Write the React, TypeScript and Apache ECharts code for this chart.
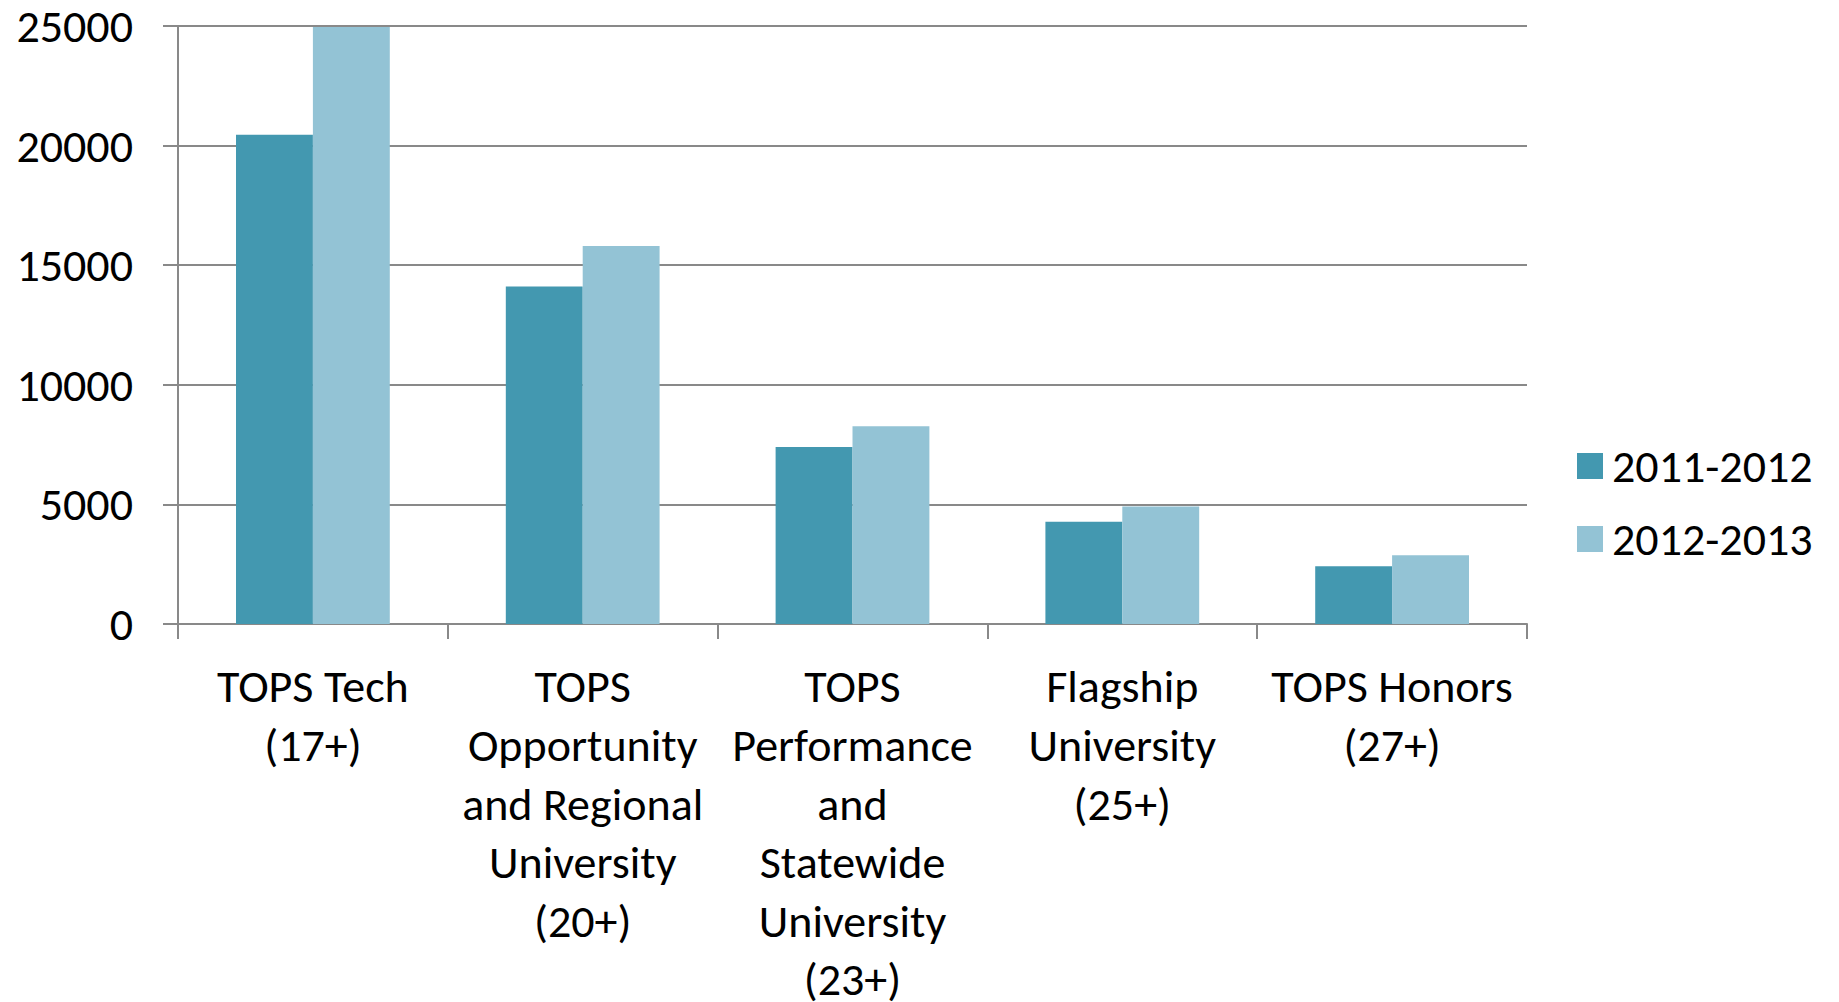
import React, { useEffect, useRef } from "react";
import * as echarts from "echarts";

const categories = [
  "TOPS Tech\n(17+)",
  "TOPS\nOpportunity\nand Regional\nUniversity\n(20+)",
  "TOPS\nPerformance\nand\nStatewide\nUniversity\n(23+)",
  "Flagship\nUniversity\n(25+)",
  "TOPS Honors\n(27+)",
];
const seriesNames = ["2011-2012", "2012-2013"];
const values2011 = [20450, 14110, 7400, 4270, 2410];
const values2012 = [24960, 15800, 8270, 4910, 2870];
const yTicks = { min: 0, max: 25000, interval: 5000 };

const FONT = "Carlito, Calibri, 'Open Sans', sans-serif";
const COLORS = ["#4398B0", "#93C3D5"];
const AXIS_GRAY = "#898989";

export default function App() {
  const ref = useRef<HTMLDivElement>(null);
  useEffect(() => {
    if (!ref.current) return;
    const chart = echarts.init(ref.current, undefined, { renderer: "svg" });
    chart.setOption({
      animation: false,
      backgroundColor: "#ffffff",
      textStyle: { fontFamily: FONT },
      grid: {
        left: 178,
        right: 312,
        top: 26,
        bottom: 378,
        containLabel: false,
        outerBoundsMode: "none",
      },
      legend: {
        orient: "vertical",
        left: 1572,
        top: 438,
        itemWidth: 26,
        itemHeight: 26,
        itemGap: 27,
        icon: "rect",
        data: seriesNames,
        textStyle: { fontFamily: FONT, fontSize: 46, color: "#000", padding: [0, 0, 0, 4] },
      },
      xAxis: {
        type: "category",
        data: categories,
        axisLine: { lineStyle: { color: AXIS_GRAY, width: 2 } },
        axisTick: { show: true, length: 15, alignWithLabel: false, lineStyle: { color: AXIS_GRAY, width: 2 } },
        axisLabel: {
          interval: 0,
          margin: 33,
          fontFamily: FONT,
          fontSize: 46,
          lineHeight: 58.6,
          color: "#000",
          align: "center",
        },
        splitLine: { show: false },
      },
      yAxis: {
        type: "value",
        min: yTicks.min,
        max: yTicks.max,
        interval: yTicks.interval,
        axisLine: { show: true, lineStyle: { color: AXIS_GRAY, width: 2 } },
        axisTick: { show: true, length: 15, lineStyle: { color: AXIS_GRAY, width: 2 } },
        axisLabel: {
          margin: 45,
          fontFamily: FONT,
          fontSize: 46,
          color: "#000",
          formatter: (v: number) => String(v),
        },
        splitLine: { show: true, lineStyle: { color: AXIS_GRAY, width: 2 } },
      },
      series: [
        {
          name: seriesNames[0],
          type: "bar",
          data: values2011,
          itemStyle: { color: COLORS[0] },
          barGap: "0%",
          barCategoryGap: "43%",
        },
        {
          name: seriesNames[1],
          type: "bar",
          data: values2012,
          itemStyle: { color: COLORS[1] },
          barGap: "0%",
          barCategoryGap: "43%",
        },
      ],
    });
    return () => chart.dispose();
  }, []);
  return (
    <div
      ref={ref}
      style={{ position: "fixed", left: 0, top: 0, width: 1839, height: 1002 }}
    />
  );
}
